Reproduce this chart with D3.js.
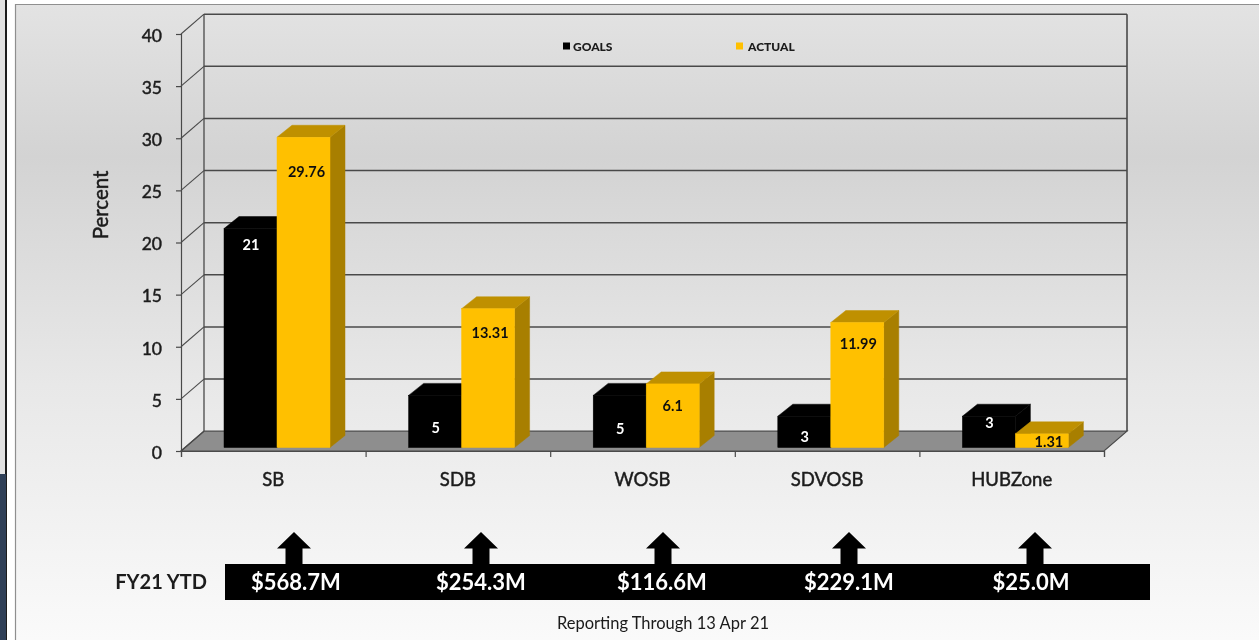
<!DOCTYPE html>
<html><head><meta charset="utf-8">
<script src="https://d3js.org/d3.v7.min.js"></script>
<style>
html,body{margin:0;padding:0;background:#fff;overflow:hidden}
svg{display:block}
text{font-family:Lato,"Open Sans",sans-serif;fill:#1a1a1a}
.thick{stroke:#1a1a1a;stroke-width:0.45px;paint-order:stroke}
</style></head><body>
<svg id="c" width="1259" height="640"></svg>
<script>
const categories = ["SB","SDB","WOSB","SDVOSB","HUBZone"];
const goals = [21,5,5,3,3];
const actual = [29.76,13.31,6.1,11.99,1.31];
const ytd = ["$568.7M","$254.3M","$116.6M","$229.1M","$25.0M"];
const yTicks = [0,5,10,15,20,25,30,35,40];
const seriesNames = ["GOALS","ACTUAL"];

// hand-placed label offsets of the reference, measured from each bar's top
const goalLabelDy = [16,32,33,21,7];
const actualLabelDy = [35,24,22,21,8];
const actualLabelDx = [3,2,0,1,7];
const ytdTextX = [296,481,662,849,1031];
const arrowX = [294,481,663,849,1035];

const svg = d3.select("#c");
const defs = svg.append("defs");
const grad = defs.append("linearGradient").attr("id","bg").attr("x1",0).attr("x2",0).attr("y1",0).attr("y2",1);
[[0,"#e3e3e3"],[0.24,"#d3d3d3"],[0.6,"#e8e8e8"],[1,"#fafafa"]].forEach(s=>grad.append("stop").attr("offset",s[0]).attr("stop-color",s[1]));
const blur = defs.append("filter").attr("id","soft").attr("x","-5%").attr("y","-5%").attr("width","110%").attr("height","110%");
blur.append("feGaussianBlur").attr("stdDeviation",0.35);

// screenshot surroundings
svg.append("rect").attr("width",1259).attr("height",640).attr("fill","#fff");
svg.append("rect").attr("x",0).attr("y",0).attr("width",5).attr("height",640).attr("fill","#e2e2e2");
svg.append("rect").attr("x",5).attr("y",0).attr("width",2).attr("height",640).attr("fill","#1c1c1c");
svg.append("rect").attr("x",0).attr("y",474).attr("width",6).attr("height",166).attr("fill","#2f3f57");
svg.append("rect").attr("x",15).attr("y",4).attr("width",1244).attr("height",636).attr("fill","url(#bg)").attr("stroke","none");
svg.append("path").attr("d","M15.5,640V4.5H1259").attr("fill","none").attr("stroke","#8f8f8f").attr("stroke-width",1.2);

// scales
const depth = {x:23,y:19.8};
const barDepth = {x:15,y:12};
const y = d3.scaleLinear().domain([0,40]).range([451,34]);
const x = d3.scaleBand().domain(categories).range([181,1104]);
const baseShift = 3.5;            // bars stand slightly behind the front edge
const barW = 53;
const barX = (c,i)=>x(c)+43+i*barW;
const yb = v=>y(v)-baseShift;

const chart = svg.append("g").attr("filter","url(#soft)");
const lineC = "#4a4a4a";

// floor
chart.append("path")
 .attr("d",`M${x.range()[0]},${y(0)}L${x.range()[0]+depth.x},${y(0)-depth.y}H${x.range()[1]+depth.x}L${x.range()[1]},${y(0)}Z`)
 .attr("fill","#8e8e8e").attr("stroke",lineC).attr("stroke-width",1.2);

// back-wall gridlines with side-wall diagonals
chart.append("g").selectAll("line.g").data(yTicks.filter(t=>t>0)).join("line")
 .attr("x1",x.range()[0]+depth.x).attr("x2",x.range()[1]+depth.x)
 .attr("y1",d=>y(d)-depth.y).attr("y2",d=>y(d)-depth.y)
 .attr("stroke",lineC).attr("stroke-width",1.5);
chart.append("g").selectAll("line.d").data(yTicks).join("line")
 .attr("x1",x.range()[0]).attr("x2",x.range()[0]+depth.x)
 .attr("y1",d=>y(d)).attr("y2",d=>y(d)-depth.y)
 .attr("stroke",lineC).attr("stroke-width",1.1);
chart.append("line").attr("x1",x.range()[0]+depth.x).attr("x2",x.range()[0]+depth.x)
 .attr("y1",y(40)-depth.y).attr("y2",y(0)-depth.y).attr("stroke",lineC).attr("stroke-width",1.3);
chart.append("line").attr("x1",x.range()[1]+depth.x).attr("x2",x.range()[1]+depth.x)
 .attr("y1",y(40)-depth.y).attr("y2",y(0)-depth.y).attr("stroke",lineC).attr("stroke-width",1.6);

// axes
const yAxis = d3.axisLeft(y).tickValues(yTicks).tickSize(5).tickPadding(14);
const gy = chart.append("g").attr("transform",`translate(${x.range()[0]},0)`).call(yAxis);
gy.selectAll("path,line").attr("stroke",lineC).attr("stroke-width",1.2);
gy.selectAll("text").attr("font-size",17.5).attr("dy","0.42em").attr("fill","#1a1a1a").attr("class","thick");

const xAxis = d3.axisBottom(d3.scaleLinear().domain([0,5]).range(x.range())).ticks(5).tickSize(6).tickFormat("");
const gx = chart.append("g").attr("transform",`translate(0,${y(0)})`).call(xAxis);
gx.selectAll("path,line").attr("stroke",lineC).attr("stroke-width",1.2);
chart.selectAll("text.cat").data(categories).join("text").attr("class","cat thick")
 .attr("x",c=>x(c)+x.bandwidth()/2).attr("y",486)
 .attr("text-anchor","middle").attr("font-size",18.5).text(c=>c);
chart.append("text").attr("class","thick").attr("transform",`translate(108,205) rotate(-90)`).attr("text-anchor","middle")
 .attr("font-size",20.5).text("Percent");

// bars
function bar(g,c,i,v,front,top,side){
  const x0=barX(c,i),x1=x0+barW,t=yb(v),b=yb(0),dx=barDepth.x,dy=barDepth.y;
  g.append("path").attr("d",`M${x1},${t}L${x1+dx},${t-dy}V${b-dy}L${x1},${b}Z`).attr("fill",side).attr("stroke",side).attr("stroke-width",0.5);
  g.append("path").attr("d",`M${x0},${t}L${x0+dx},${t-dy}H${x1+dx}L${x1},${t}Z`).attr("fill",top).attr("stroke",top).attr("stroke-width",0.5);
  g.append("rect").attr("x",x0).attr("y",t).attr("width",barW).attr("height",b-t).attr("fill",front).attr("stroke",front).attr("stroke-width",0.5);
}
const barsG = chart.append("g");
categories.forEach((c,k)=>{
  bar(barsG,c,0,goals[k],"#000","#000","#000");
  bar(barsG,c,1,actual[k],"#ffc000","#bf9000","#a87f00");
});

// value labels
chart.selectAll("text.gv").data(goals).join("text").attr("class","gv")
 .attr("x",(d,k)=>barX(categories[k],0)+barW/2+0.5).attr("y",(d,k)=>yb(d)+goalLabelDy[k])
 .attr("dy","0.36em").attr("text-anchor","middle").attr("font-size",14.5).attr("font-weight",700)
 .style("fill","#fff").text(d=>d);
chart.selectAll("text.av").data(actual).join("text").attr("class","av")
 .attr("x",(d,k)=>barX(categories[k],1)+barW/2+actualLabelDx[k]).attr("y",(d,k)=>yb(d)+actualLabelDy[k])
 .attr("dy","0.36em").attr("text-anchor","middle").attr("font-size",14.5).attr("font-weight",700)
 .style("fill","#111").text(d=>d);

// legend
const legX=[563,736], legT=[573,748], legC=["#000","#ffc000"];
seriesNames.forEach((s,i)=>{
  chart.append("rect").attr("x",legX[i]).attr("y",42.5).attr("width",7).attr("height",7).attr("fill",legC[i]);
  chart.append("text").attr("x",legT[i]).attr("y",50.5).attr("font-size",12).attr("font-weight",900).text(s);
});

// YTD strip
const strip = svg.append("g").attr("filter","url(#soft)");
strip.append("rect").attr("x",225).attr("y",564).attr("width",925).attr("height",36).attr("fill","#000");
strip.selectAll("path.arrow").data(arrowX).join("path").attr("class","arrow")
 .attr("d",a=>`M${a},532L${a+17},548.5H${a+8.5}V565H${a-8.5}V548.5H${a-17}Z`).attr("fill","#000");
strip.selectAll("text.ytd").data(ytd).join("text").attr("class","ytd")
 .attr("x",(d,i)=>ytdTextX[i]).attr("y",590).attr("text-anchor","middle")
 .attr("font-size",22).attr("font-weight",700).style("fill","#fff").text(d=>d);
strip.append("text").attr("x",207).attr("y",589).attr("text-anchor","end").attr("font-size",20).attr("font-weight",700).text("FY21 YTD");
strip.append("text").attr("x",663).attr("y",629).attr("text-anchor","middle").attr("font-size",16.5).text("Reporting Through 13 Apr 21");
</script>
</body></html>
